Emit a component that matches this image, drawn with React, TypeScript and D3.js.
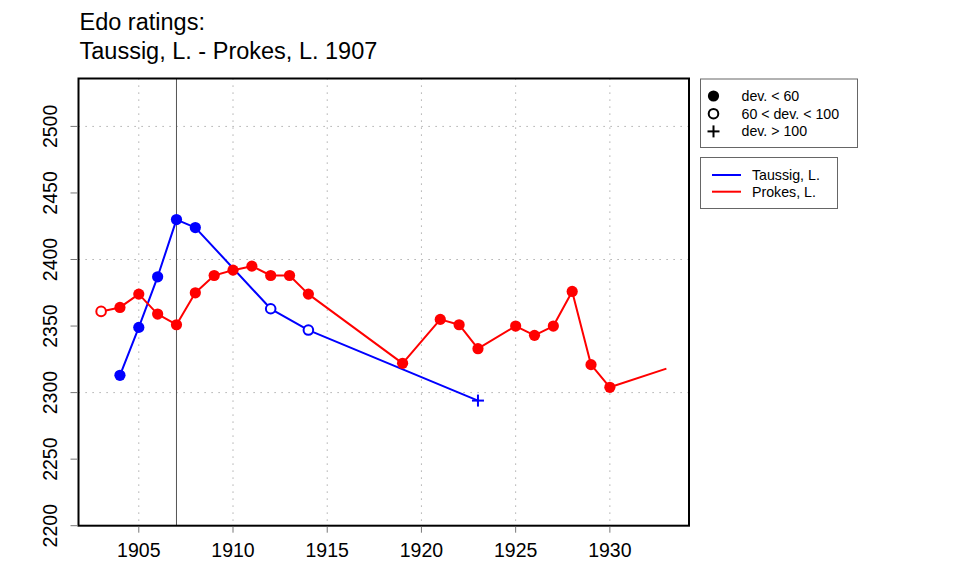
import React from 'react';
import * as d3 from 'd3';

// dev codes: 'f' = dev < 60 (filled), 'o' = 60 < dev < 100 (open), 'p' = dev > 100 (plus), 'n' = no marker
const taussigYears = [1904, 1905, 1906, 1907, 1908, 1912, 1914, 1923];
const taussigRatings = [2313, 2349, 2387, 2430, 2424, 2363, 2347, 2294];
const taussigDev = ['f', 'f', 'f', 'f', 'f', 'o', 'o', 'p'];

const prokesYears = [
  1903, 1904, 1905, 1906, 1907, 1908, 1909, 1910, 1911, 1912, 1913, 1914,
  1919, 1921, 1922, 1923, 1925, 1926, 1927, 1928, 1929, 1930, 1933,
];
const prokesRatings = [
  2361, 2364, 2374, 2359, 2351, 2375, 2388, 2392, 2395, 2388, 2388, 2374,
  2322, 2355, 2351, 2333, 2350, 2343, 2350, 2376, 2321, 2304, 2318,
];
const prokesDev = [
  'o', 'f', 'f', 'f', 'f', 'f', 'f', 'f', 'f', 'f', 'f', 'f',
  'f', 'f', 'f', 'f', 'f', 'f', 'f', 'f', 'f', 'f', 'n',
];

const xTicks = [1905, 1910, 1915, 1920, 1925, 1930];
const yTicks = [2200, 2250, 2300, 2350, 2400, 2450, 2500];
const yGrid = [2300, 2400, 2500];
const eventYear = 1907;

const titleLines = ['Edo ratings:', 'Taussig, L. - Prokes, L. 1907'];
const devLabels = ['dev. < 60', '60 < dev. < 100', 'dev. > 100'];
const devKinds = ['f', 'o', 'p'];
const playerNames = ['Taussig, L.', 'Prokes, L.'];
const playerColors = ['#0000ff', '#ff0000'];

const W = 960;
const H = 576;
const plot = { left: 78.5, right: 689, top: 78.5, bottom: 525.7 };
const font = 'Liberation Sans, Arial, Helvetica, sans-serif';

const x = d3.scaleLinear().domain([1901.8, 1934.2]).range([plot.left, plot.right]);
const y = d3.scaleLinear().domain([2200, 2536]).range([plot.bottom, plot.top]);

const Marker = ({ kind, cx, cy, color }: { kind: string; cx: number; cy: number; color: string }) => {
  if (kind === 'f') return <circle cx={cx} cy={cy} r={5.6} fill={color} />;
  if (kind === 'o') return <circle cx={cx} cy={cy} r={4.8} fill="white" stroke={color} strokeWidth={2} />;
  if (kind === 'p')
    return (
      <g stroke={color} strokeWidth={2}>
        <line x1={cx - 6} x2={cx + 6} y1={cy} y2={cy} />
        <line x1={cx} x2={cx} y1={cy - 6} y2={cy + 6} />
      </g>
    );
  return null;
};

const Series = ({ years, ratings, dev, color }: { years: number[]; ratings: number[]; dev: string[]; color: string }) => {
  const pts = years.map((yr, i) => [yr, ratings[i]] as [number, number]);
  const line = d3.line<[number, number]>().x(d => x(d[0])).y(d => y(d[1]));
  return (
    <g>
      <path d={line(pts) || ''} fill="none" stroke={color} strokeWidth={2} strokeLinejoin="round" />
      {pts.map((d, i) => (
        <Marker key={i} kind={dev[i]} cx={x(d[0])} cy={y(d[1])} color={color} />
      ))}
    </g>
  );
};

export default function App() {
  return (
    <svg
      width={W}
      height={H}
      viewBox={`0 0 ${W} ${H}`}
      style={{ position: 'absolute', left: 0, top: 0, background: 'white' }}
      fontFamily={font}
    >
      {/* title */}
      {titleLines.map((t, i) => (
        <text key={i} x={79.5} y={30 + i * 28.7} fontSize={23.5} fill="#000">
          {t}
        </text>
      ))}

      {/* grid */}
      <g stroke="#999" strokeWidth={1} strokeDasharray="1.2,5.8">
        {xTicks.map(t => (
          <line key={t} x1={x(t)} x2={x(t)} y1={plot.top} y2={plot.bottom} />
        ))}
        {yGrid.map(t => (
          <line key={t} x1={plot.left} x2={plot.right} y1={y(t)} y2={y(t)} />
        ))}
      </g>

      {/* event year */}
      <line x1={x(eventYear)} x2={x(eventYear)} y1={plot.top} y2={plot.bottom} stroke="#555" strokeWidth={1} />

      <Series years={taussigYears} ratings={taussigRatings} dev={taussigDev} color={playerColors[0]} />
      <Series years={prokesYears} ratings={prokesRatings} dev={prokesDev} color={playerColors[1]} />

      {/* frame */}
      <rect
        x={plot.left}
        y={plot.top}
        width={plot.right - plot.left}
        height={plot.bottom - plot.top}
        fill="none"
        stroke="#000"
        strokeWidth={2}
      />

      {/* x axis */}
      {xTicks.map(t => (
        <g key={t}>
          <line x1={x(t)} x2={x(t)} y1={plot.bottom + 1} y2={plot.bottom + 7} stroke="#777" />
          <text x={x(t)} y={556.5} textAnchor="middle" fontSize={19.5} fill="#000">
            {t}
          </text>
        </g>
      ))}

      {/* y axis */}
      {yTicks.map(t => (
        <g key={t}>
          <line x1={plot.left - 1} x2={plot.left - 8} y1={y(t)} y2={y(t)} stroke="#777" />
          <text
            transform={`translate(56.5, ${y(t)}) rotate(-90)`}
            textAnchor="middle"
            fontSize={19.5}
            fill="#000"
          >
            {t}
          </text>
        </g>
      ))}

      {/* legend: deviation */}
      <rect x={700.5} y={79} width={157} height={68.5} fill="white" stroke="#666" strokeWidth={1} />
      {devLabels.map((lab, i) => {
        const cy = 96 + i * 17.7;
        return (
          <g key={lab}>
            <Marker kind={devKinds[i]} cx={713.5} cy={cy} color="#000" />
            <text x={741.5} y={cy + 5} fontSize={14.2} fill="#000">
              {lab}
            </text>
          </g>
        );
      })}

      {/* legend: players */}
      <rect x={700.5} y={157.5} width={137} height={51} fill="white" stroke="#666" strokeWidth={1} />
      {playerNames.map((name, i) => {
        const cy = 175 + i * 16.7;
        return (
          <g key={name}>
            <line x1={712} x2={741} y1={cy} y2={cy} stroke={playerColors[i]} strokeWidth={2} />
            <text x={752} y={cy + 5} fontSize={14.2} fill="#000">
              {name}
            </text>
          </g>
        );
      })}
    </svg>
  );
}
